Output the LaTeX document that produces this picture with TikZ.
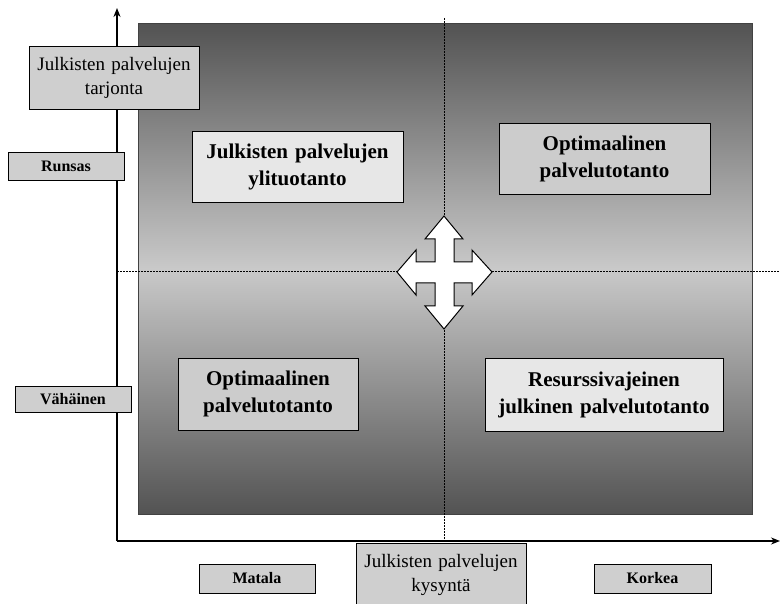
\documentclass[tikz,border=0pt]{standalone}
\usepackage{fontspec}
\setmainfont{Liberation Serif}
\usetikzlibrary{arrows.meta}
\definecolor{panedark}{HTML}{535353}
\definecolor{panelight}{HTML}{C9C9C9}
\definecolor{boxgray}{HTML}{CFCFCF}
\definecolor{boxpale}{HTML}{E7E7E7}
\definecolor{boxmid}{HTML}{CCCCCC}
\tikzset{
  lbl/.style={draw=black, line width=0.8pt, fill=boxgray, inner sep=0pt, align=center},
  smalllbl/.style={lbl, font=\fontsize{16}{19}\selectfont\bfseries},
  axislbl/.style={lbl, font=\fontsize{19}{24}\selectfont},
  quad/.style={draw=black, line width=0.8pt, inner sep=0pt, align=center,
               font=\fontsize{21}{27}\selectfont\bfseries},
  guide/.style={line width=1pt, dash pattern=on 2pt off 1pt},
  axisline/.style={line width=1.6pt, -{Stealth[length=9pt,width=7pt]}}
}
\begin{document}
\begin{tikzpicture}[x=1pt, y=-1pt]
\useasboundingbox (0,0) rectangle (780,604);

% shaded field
\shade[top color=panedark, bottom color=panedark, middle color=panelight]
  (138,24) rectangle (752,514);
\draw[draw=panedark!80!black, line width=1pt] (138,24) rectangle (752,514);

% quadrant guides
\coordinate (vtop) at (444,18);
\coordinate (vbot) at (444,541);
\coordinate (hleft) at (117,272);
\coordinate (hright) at (780,272);
\draw[guide] (vtop) -- (vbot);
\draw[guide] (hleft) -- (hright);

% axes
\coordinate (origin) at (117,541);
\coordinate (ytip) at (117,8);
\coordinate (xtip) at (780,541);
\draw[axisline] (origin) -- (ytip);
\draw[axisline] (origin) -- (xtip);

% axis labels
\node[axislbl, text width=170pt, minimum height=63pt] (supply) at (114,77.5)
  {Julkisten palvelujen\\tarjonta};
\node[smalllbl, text width=116pt, minimum height=28pt] (high) at (66,166) {Runsas};
\node[smalllbl, text width=116pt, minimum height=26pt] (low) at (73,399.5) {Vähäinen};
\node[axislbl, text width=170pt, minimum height=63pt, anchor=north] (demand) at (441,543)
  {Julkisten palvelujen\\kysyntä};
\node[smalllbl, text width=116pt, minimum height=29pt] (lowd) at (257,578.5) {Matala};
\node[smalllbl, text width=117pt, minimum height=29pt] (highd) at (652.5,578.5) {Korkea};

% quadrant boxes
\node[quad, fill=boxpale, text width=211pt, minimum height=71pt] (over) at (297.5,166.5)
  {Julkisten palvelujen\\ylituotanto};
\node[quad, fill=boxmid, text width=211pt, minimum height=71pt] (opttop) at (604.5,158.5)
  {Optimaalinen\\palvelutotanto};
\node[quad, fill=boxmid, text width=180pt, minimum height=72pt] (optbot) at (268,394)
  {Optimaalinen\\palvelutotanto};
\node[quad, fill=boxpale, text width=238pt, minimum height=73pt] (lack) at (604,394.5)
  {Resurssivajeinen\\julkinen palvelutotanto};

% four-way arrow at the centre
\draw[fill=white, draw=black, line width=1pt, line join=miter]
  (444,216) -- (463,239) -- (454,239) -- (454,262) -- (472,262) -- (472,250)
  -- (492,272) -- (472,295) -- (472,283) -- (454,283) -- (454,306) -- (463,306)
  -- (444,329) -- (425,306) -- (435,306) -- (435,283) -- (416,283) -- (416,295)
  -- (397,272) -- (416,250) -- (416,262) -- (435,262) -- (435,239) -- (425,239)
  -- cycle;
\end{tikzpicture}
\end{document}
